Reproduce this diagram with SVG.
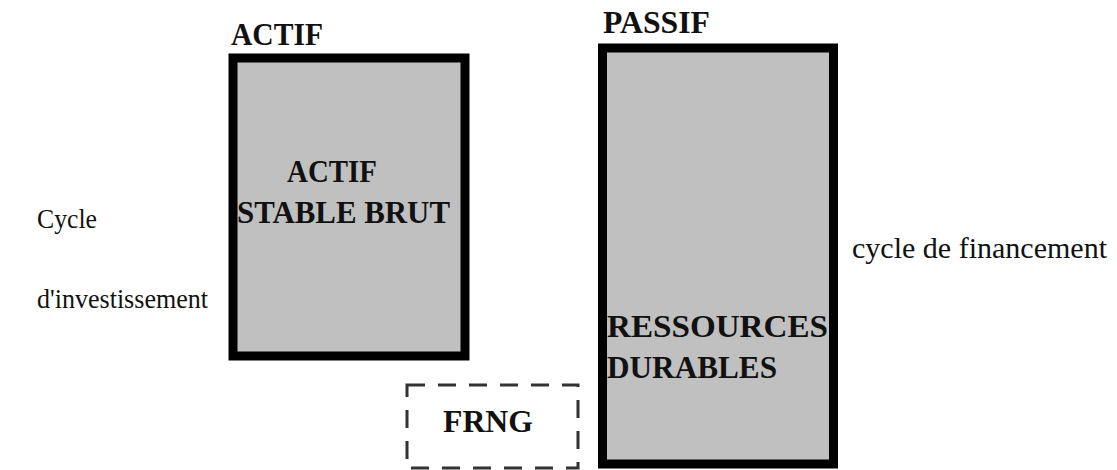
<svg xmlns="http://www.w3.org/2000/svg" width="1117" height="470" viewBox="0 0 1117 470">
<style>
.box{fill:#c0c0c0;stroke:#000;stroke-width:9}
.b{font-family:"Liberation Serif","Times New Roman",serif;font-weight:bold;fill:#111}
.n{font-family:"Liberation Serif","Times New Roman",serif;fill:#111}
.dash{fill:none;stroke:#333;stroke-width:3;stroke-dasharray:18 13}
</style>
<rect width="1117" height="470" fill="#fff"/>
<g id="actif">
<text class="b" x="231" y="45" font-size="31" textLength="92" lengthAdjust="spacingAndGlyphs">ACTIF</text>
<rect class="box" x="233" y="58" width="232" height="298"/>
<text class="b" x="287" y="182" font-size="31" textLength="90" lengthAdjust="spacingAndGlyphs">ACTIF</text>
<text class="b" x="237" y="223" font-size="32" textLength="213" lengthAdjust="spacingAndGlyphs">STABLE BRUT</text>
</g>
<g id="passif">
<text class="b" x="603" y="33" font-size="31" textLength="107" lengthAdjust="spacingAndGlyphs">PASSIF</text>
<rect class="box" x="602.5" y="48" width="231" height="416"/>
<text class="b" x="607" y="337" font-size="32" textLength="221" lengthAdjust="spacingAndGlyphs">RESSOURCES</text>
<text class="b" x="607" y="378" font-size="32" textLength="170" lengthAdjust="spacingAndGlyphs">DURABLES</text>
</g>
<g id="frng">
<rect class="dash" x="407" y="385" width="171" height="83"/>
<text class="b" x="443" y="432" font-size="32" textLength="90" lengthAdjust="spacingAndGlyphs">FRNG</text>
</g>
<g id="labels">
<text class="n" x="37" y="228" font-size="27" textLength="60" lengthAdjust="spacingAndGlyphs">Cycle</text>
<text class="n" x="37" y="308" font-size="27" textLength="171" lengthAdjust="spacingAndGlyphs">d'investissement</text>
<text class="n" x="852" y="258" font-size="29" textLength="255" lengthAdjust="spacingAndGlyphs">cycle de financement</text>
</g>
<g id="connectors"/>
</svg>
